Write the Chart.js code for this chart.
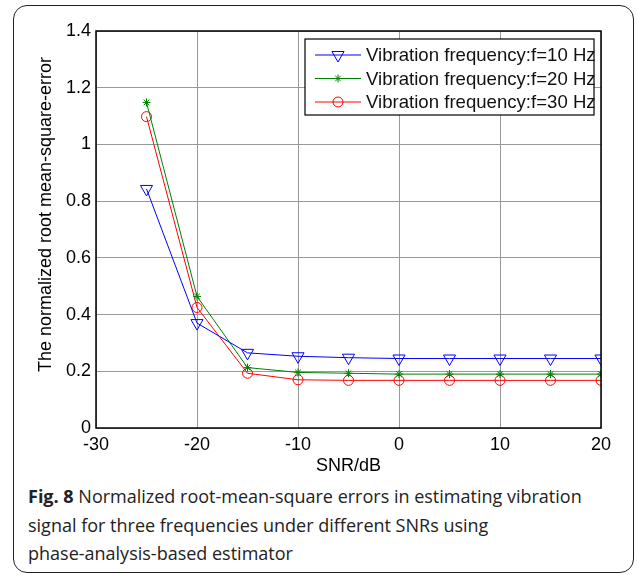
<!DOCTYPE html>
<html>
<head>
<meta charset="utf-8">
<script src="https://cdn.jsdelivr.net/npm/chart.js@4/dist/chart.umd.min.js"></script>
<style>
  html, body { margin: 0; padding: 0; background: #fff; width: 637px; height: 575px; overflow: hidden; }
  #frame { position: absolute; left: 13px; top: 5px; width: 619px; height: 566px; border: 1.5px solid #222; border-radius: 14px; }
  #chart { position: absolute; left: 0; top: 0; }
  #caption { position: absolute; left: 28px; top: 482px; font-family: "Open Sans", sans-serif; font-size: 18px; line-height: 28.5px; color: #222; white-space: nowrap; }
  #caption b { font-weight: 700; }
</style>
</head>
<body>
<div id="frame"></div>
<canvas id="chart" width="637" height="480"></canvas>
<div id="caption"><b>Fig. 8</b> Normalized root-mean-square errors in estimating vibration<br>signal for three frequencies under different SNRs using<br>phase-analysis-based estimator</div>
<script>
// ---- data ----
const snr = [-25, -20, -15, -10, -5, 0, 5, 10, 15, 20];
const f10 = [0.843, 0.370, 0.265, 0.253, 0.248, 0.245, 0.245, 0.245, 0.245, 0.245];
const f20 = [1.148, 0.464, 0.213, 0.196, 0.193, 0.190, 0.190, 0.190, 0.190, 0.190];
const f30 = [1.098, 0.425, 0.193, 0.170, 0.168, 0.168, 0.168, 0.168, 0.168, 0.168];
const seriesLabels = ['Vibration frequency:f=10 Hz', 'Vibration frequency:f=20 Hz', 'Vibration frequency:f=30 Hz'];
const xTicks = [-30, -20, -10, 0, 10, 20];
const xTickLabels = ['-30', '-20', '-10', '0', '10', '20'];
const yTicks = [0, 0.2, 0.4, 0.6, 0.8, 1, 1.2, 1.4];
const yTickLabels = ['0', '0.2', '0.4', '0.6', '0.8', '1', '1.2', '1.4'];
const xTitle = 'SNR/dB';
const yTitle = 'The normalized root mean-square-error';

const FONT = '"Liberation Sans", Arial, sans-serif';
Chart.defaults.font.family = FONT;
Chart.defaults.color = '#000';

const styles = [
  { color: '#0000ff', pointStyle: 'triangle', rotation: 180, radius: 7 },
  { color: '#008000', pointStyle: 'star', rotation: 0, radius: 4 },
  { color: '#ff0000', pointStyle: 'circle', rotation: 0, radius: 5 }
];
const series = [f10, f20, f30];

const datasets = series.map((vals, i) => ({
  label: seriesLabels[i],
  data: snr.map((x, j) => ({ x: x, y: vals[j] })),
  borderColor: styles[i].color,
  backgroundColor: 'rgba(0,0,0,0)',
  borderWidth: 1,
  pointStyle: styles[i].pointStyle,
  pointRotation: styles[i].rotation,
  pointRadius: styles[i].radius,
  pointBorderWidth: 1,
  pointBorderColor: styles[i].color,
  pointBackgroundColor: 'rgba(0,0,0,0)',
  tension: 0,
  fill: false
}));

const boxPlugin = {
  id: 'boxAndLegend',
  afterDatasetsDraw(chart) {
    const { ctx, chartArea: a } = chart;
    ctx.save();
    // axes box
    ctx.strokeStyle = '#000';
    ctx.lineWidth = 1.5;
    ctx.strokeRect(a.left, a.top, a.right - a.left, a.bottom - a.top);
    // legend
    const lw = 289, lh = 76;
    const lx = a.right - 7 - lw, ly = a.top + 8;
    ctx.fillStyle = '#fff';
    ctx.fillRect(lx, ly, lw, lh);
    ctx.lineWidth = 1.2;
    ctx.strokeStyle = '#000';
    ctx.strokeRect(lx, ly, lw, lh);
    ctx.font = '18.6px ' + FONT;
    ctx.textBaseline = 'middle';
    ctx.textAlign = 'left';
    chart.data.datasets.forEach((ds, i) => {
      const y = ly + 16 + i * 23.5;
      ctx.strokeStyle = ds.borderColor;
      ctx.lineWidth = 1;
      ctx.beginPath();
      ctx.moveTo(lx + 10, y);
      ctx.lineTo(lx + 56, y);
      ctx.stroke();
      ctx.fillStyle = 'rgba(0,0,0,0)';
      Chart.helpers.drawPoint(ctx, {
        pointStyle: ds.pointStyle, rotation: ds.pointRotation,
        radius: ds.pointRadius, borderWidth: 1
      }, lx + 33, y);
      ctx.fillStyle = '#111';
      ctx.fillText(ds.label, lx + 61, y + 1);
    });
    ctx.restore();
  }
};

new Chart(document.getElementById('chart'), {
  type: 'line',
  data: { datasets: datasets },
  options: {
    responsive: false,
    animation: false,
    layout: { padding: { left: 0, top: 31, right: 36, bottom: 0 } },
    plugins: { legend: { display: false }, tooltip: { enabled: false } },
    scales: {
      x: {
        type: 'linear', min: -30, max: 20,
        afterBuildTicks: s => { s.ticks = xTicks.map(v => ({ value: v })); },
        afterFit: s => { s.height = 52; },
        ticks: { font: { size: 18 }, padding: 6, maxRotation: 0,
                 callback: v => xTickLabels[xTicks.indexOf(Math.round(v))] },
        grid: { color: '#999', lineWidth: 1, drawTicks: false },
        border: { display: false },
        title: { display: true, text: xTitle, font: { size: 18 }, padding: { top: 0, bottom: 3 } }
      },
      y: {
        type: 'linear', min: 0, max: 1.4,
        afterBuildTicks: s => { s.ticks = yTicks.map(v => ({ value: v })); },
        afterFit: s => { s.width = 96; },
        ticks: { font: { size: 18 }, padding: 5,
                 callback: v => yTickLabels[Math.round(v / 0.2)] },
        grid: { color: '#999', lineWidth: 1, drawTicks: false },
        border: { display: false },
        title: { display: true, text: '      ' + yTitle, font: { size: 18 }, padding: { top: 35, bottom: 0 } }
      }
    }
  },
  plugins: [boxPlugin]
});
</script>
</body>
</html>
